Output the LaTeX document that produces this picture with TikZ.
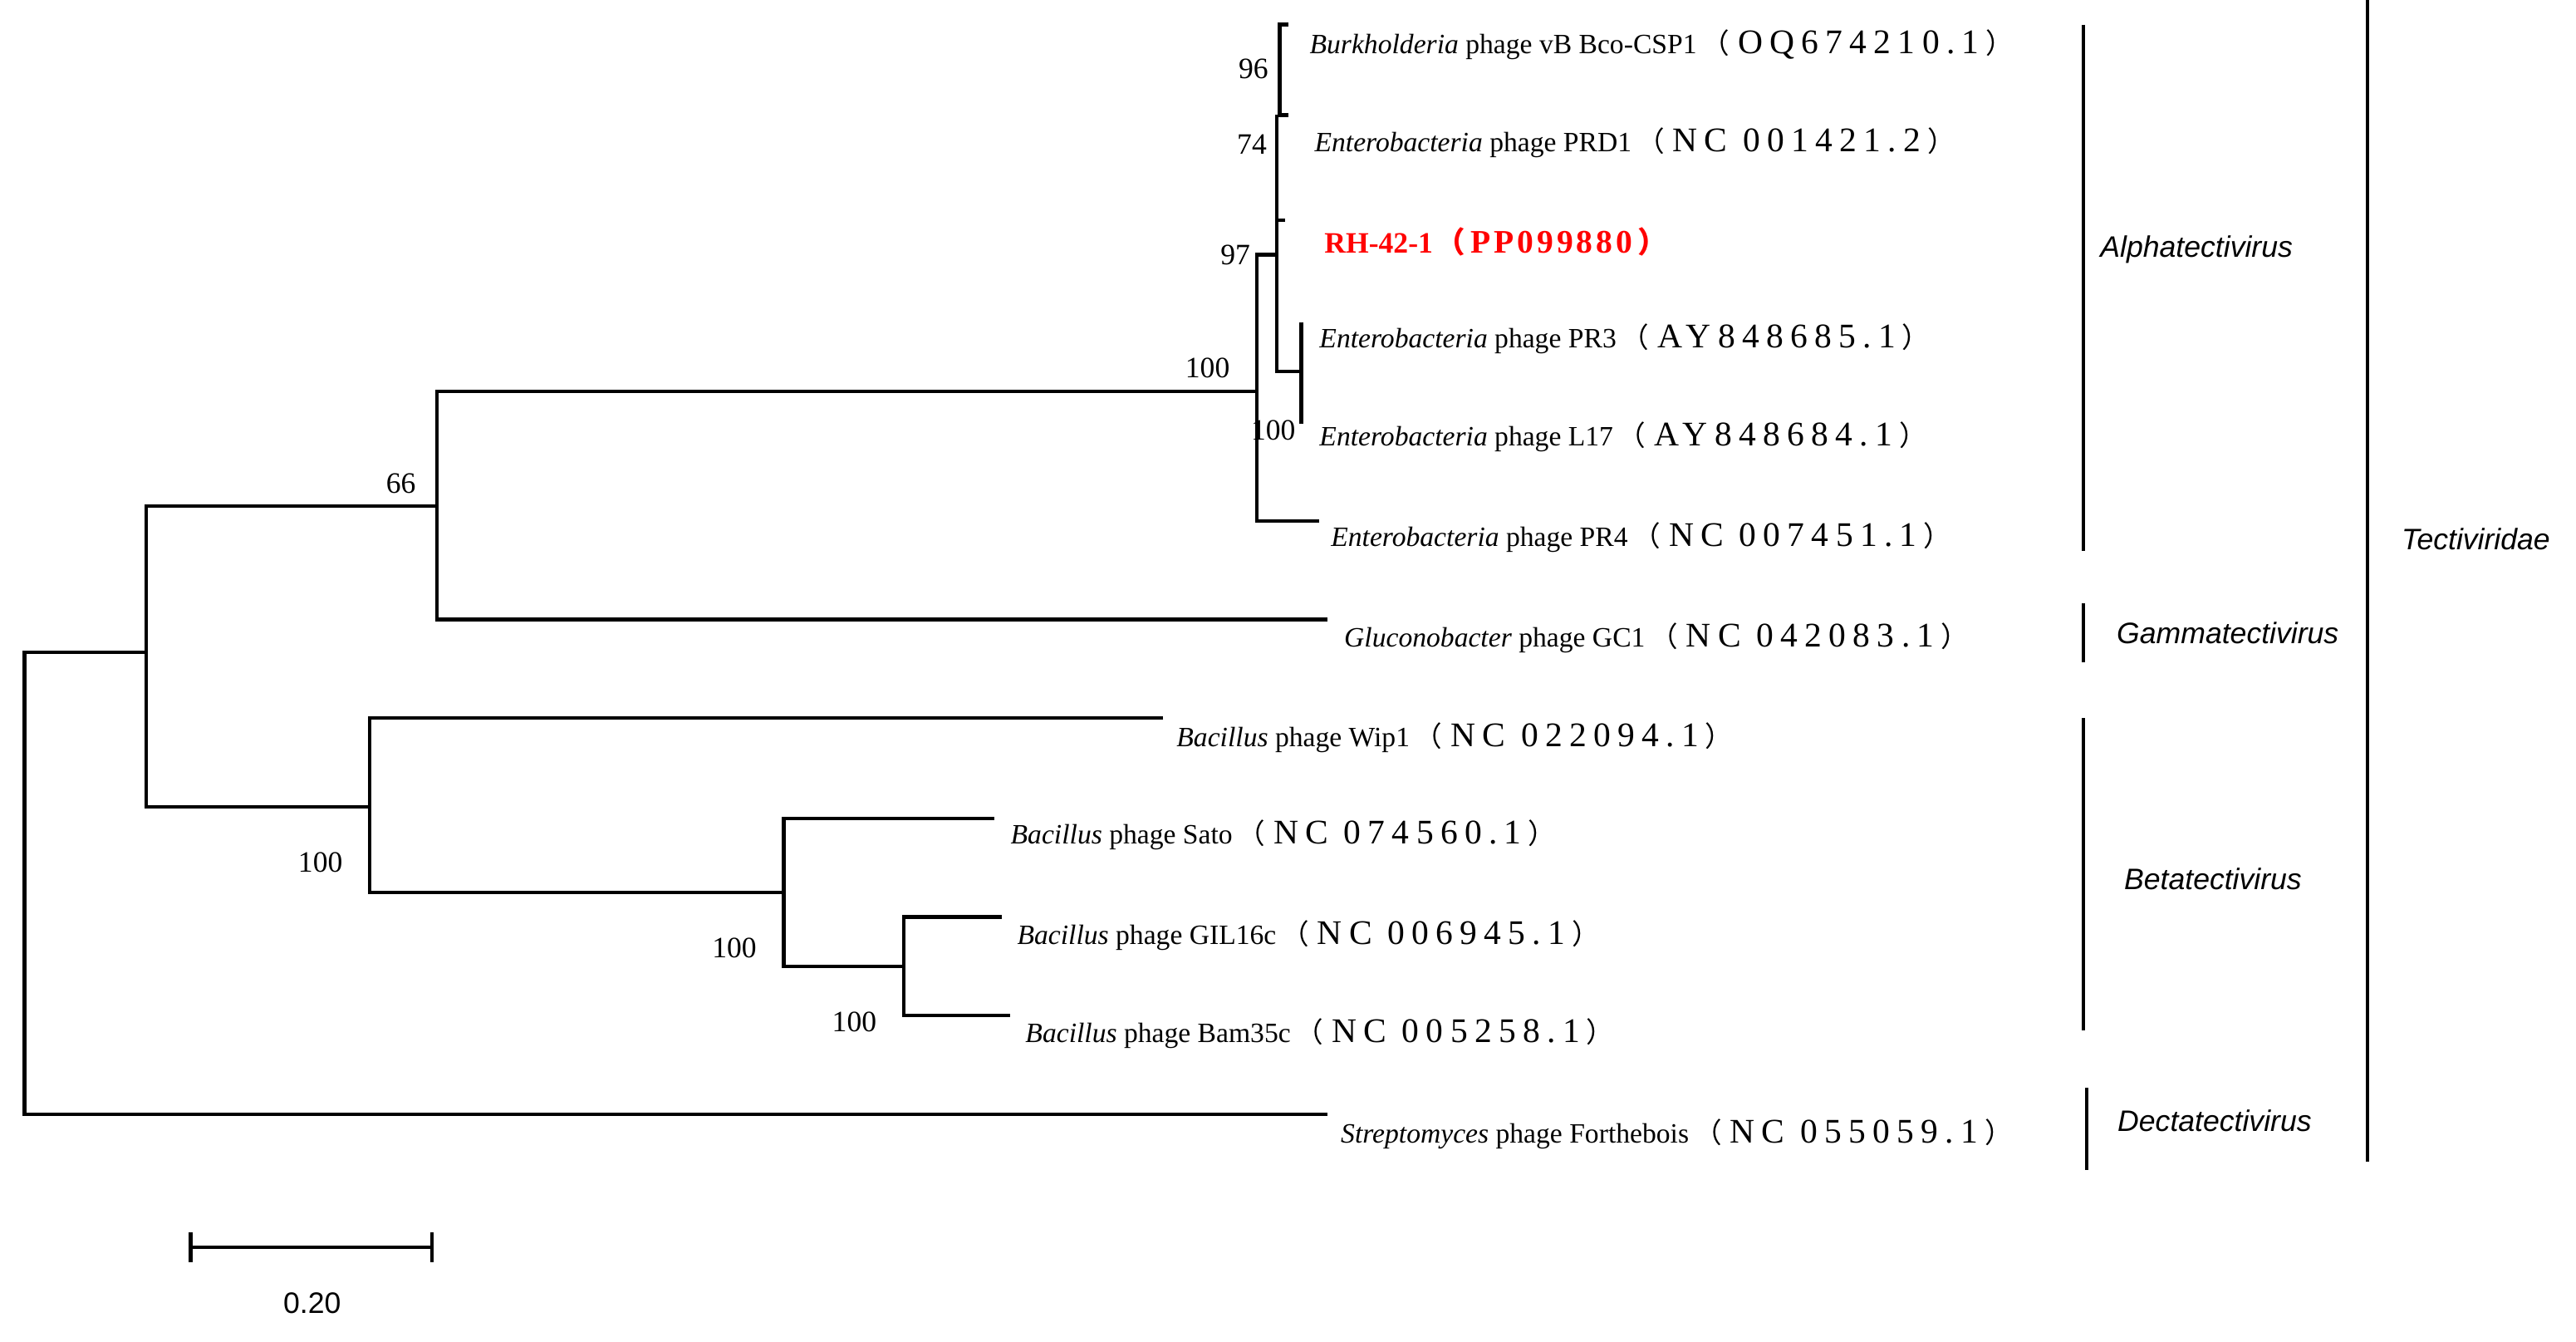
\documentclass[tikz,border=0pt]{standalone}
\usepackage{fontspec}
\setmainfont{Liberation Serif}
\newfontfamily\cjkf{Noto Sans CJK SC}
\newfontfamily\arialf{Liberation Sans}
\newfontfamily\accf[LetterSpace=20]{Liberation Serif}
\newfontfamily\accbf[LetterSpace=10]{Liberation Serif Bold}
\newcommand{\acc}[1]{\hspace{3pt}{\cjkf （}\hspace{5pt}{\fontsize{21}{22}\accf #1}\hspace{4pt}{\cjkf ）}}
\begin{document}
\begin{tikzpicture}[x=1pt,y=-1pt,
  br/.style={line width=2.2pt},
  leaf/.style={anchor=west,inner sep=0pt,font=\fontsize{17}{20}\selectfont},
  bs/.style={inner sep=0pt,font=\fontsize{18}{20}\selectfont},
  grp/.style={inner sep=0pt,font=\arialf\fontsize{18}{20}\selectfont\itshape}]
\useasboundingbox (0,0) rectangle (1568,816.5);
% leaves
\node[leaf] (l1) at (797,27) {\textit{Burkholderia} phage vB Bco-CSP1\acc{OQ674210.1}};
\node[leaf] (l2) at (800,87) {\textit{Enterobacteria} phage PRD1\acc{NC 001421.2}};
\node[leaf,text=red,font=\fontsize{18}{20}\selectfont\bfseries] (l3) at (806,147) {RH-42-1\hspace{2pt}{\cjkf\bfseries （}\hspace{3pt}{\fontsize{20}{22}\accbf PP099880}\hspace{3pt}{\cjkf\bfseries ）}};
\node[leaf] (l4) at (803,206) {\textit{Enterobacteria} phage PR3\acc{AY848685.1}};
\node[leaf] (l5) at (803,266) {\textit{Enterobacteria} phage L17\acc{AY848684.1}};
\node[leaf] (l6) at (810,327) {\textit{Enterobacteria} phage PR4\acc{NC 007451.1}};
\node[leaf] (l7) at (818,388) {\textit{Gluconobacter} phage GC1\acc{NC 042083.1}};
\node[leaf] (l8) at (716,449) {\textit{Bacillus} phage Wip1\acc{NC 022094.1}};
\node[leaf] (l9) at (615,508) {\textit{Bacillus} phage Sato\acc{NC 074560.1}};
\node[leaf] (l10) at (619,569) {\textit{Bacillus} phage GIL16c\acc{NC 006945.1}};
\node[leaf] (l11) at (624,629) {\textit{Bacillus} phage Bam35c\acc{NC 005258.1}};
\node[leaf] (l12) at (816,690) {\textit{Streptomyces} phage Forthebois\acc{NC 055059.1}};
% tree
\draw[br] (808,678) -- (15,678) -- (15,397) -- (89,397);
\draw[br] (225,491) -- (89,491) -- (89,308) -- (266,308);
\draw[br] (765,238) -- (266,238) -- (266,377) -- (808,377);
\draw[br] (708,437) -- (225,437) -- (225,543) -- (477,543);
\draw[br] (605,498) -- (477,498) -- (477,588) -- (550,588);
\draw[br] (610,558) -- (550,558) -- (550,618) -- (615,618);
\draw[br] (803,317) -- (765,317) -- (765,155) -- (777,155);
\draw[br] (777,70) -- (777,226) -- (792,226);
\draw[br] (777,134) -- (782,134);
\draw[br] (784,15) -- (779,15) -- (779,70) -- (784,70);
\draw[br] (792,196) -- (792,258);
% support values
\node[bs] (b1) at (763,42) {96};
\node[bs] (b2) at (762,88) {74};
\node[bs] (b3) at (752,155) {97};
\node[bs] (b4) at (735,224) {100};
\node[bs] (b5) at (775,262) {100};
\node[bs] (b6) at (244,294) {66};
\node[bs] (b7) at (195,525) {100};
\node[bs] (b8) at (447,577) {100};
\node[bs] (b9) at (520,622) {100};
% groups
\draw[br] (1268,15) -- (1268,335);
\draw[br] (1268,367) -- (1268,403);
\draw[br] (1268,437) -- (1268,627);
\draw[br] (1270,662) -- (1270,712);
\draw[br] (1441,0) -- (1441,707);
\node[grp] (g1) at (1337,152) {Alphatectivirus};
\node[grp] (g2) at (1356,385) {Gammatectivirus};
\node[grp] (g3) at (1347,535) {Betatectivirus};
\node[grp] (g4) at (1348,682) {Dectatectivirus};
\node[grp] (g5) at (1507,328) {Tectiviridae};
% scale
\draw[br] (116,750) -- (116,768);
\draw[br] (263,750) -- (263,768);
\draw[br] (116,759) -- (263,759);
\node[inner sep=0pt,font=\arialf\fontsize{18}{20}\selectfont] (sc) at (190,793) {0.20};
\end{tikzpicture}
\end{document}
